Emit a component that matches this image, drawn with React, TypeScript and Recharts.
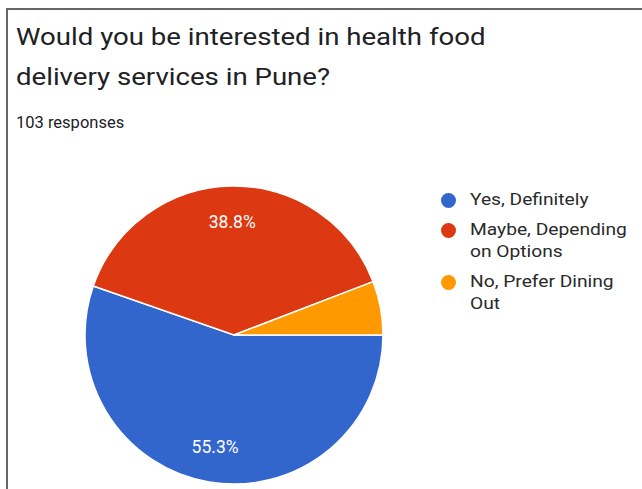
import { PieChart, Pie, Cell, Legend } from 'recharts';

const answers = ['Yes, Definitely', 'Maybe, Depending on Options', 'No, Prefer Dining Out'];
const counts = [57, 40, 6];
const colors = ['#3366cc', '#dc3912', '#ff9900'];
const legendLines = [['Yes, Definitely'], ['Maybe, Depending', 'on Options'], ['No, Prefer Dining', 'Out']];

const total = counts.reduce((a, b) => a + b, 0);
const data = answers.map((name, i) => ({ name, value: counts[i] }));

const RADIAN = Math.PI / 180;
const FONT = 'Roboto, Arial, sans-serif';

// percent label inside slice, skip small ones like google charts
// eslint-disable-next-line @typescript-eslint/no-explicit-any
const renderLabel = ({ cx, cy, midAngle, outerRadius, value }: any) => {
    const pct = (value / total) * 100;
    if (pct < 10) return null;
    const r = outerRadius * 0.76;
    const x = cx + r * Math.cos(-midAngle * RADIAN);
    const y = cy + r * Math.sin(-midAngle * RADIAN);
    return (
        <text x={x} y={y} fill="#ffffff" fontSize={17.5} textAnchor="middle" dominantBaseline="central"
            fontFamily={FONT}>
            {pct.toFixed(1)}%
        </text>
    );
};

const LegendContent = () => (
    <div style={{ fontFamily: FONT, fontSize: 16, color: '#2a2a2a' }}>
        {legendLines.map((lines, i) => (
            <div key={i} style={{ display: 'flex', alignItems: 'flex-start', marginBottom: 8 }}>
                <span style={{
                    width: 15, height: 15, borderRadius: 8, background: colors[i],
                    marginTop: 4, marginRight: 14, flexShrink: 0,
                }} />
                <div style={{ lineHeight: '22px', transform: 'scaleX(1.2)', transformOrigin: 'left center' }}>
                    {lines.map((l) => <div key={l} style={{ whiteSpace: 'nowrap' }}>{l}</div>)}
                </div>
            </div>
        ))}
    </div>
);

export default function App() {
    return (
        <div style={{ position: 'absolute', left: 0, top: 0, width: 642, height: 489, background: '#fff', overflow: 'hidden' }}>
            <div style={{
                position: 'absolute', left: 6, top: 8, width: 700, height: 500,
                borderLeft: '2px solid #666', borderTop: '2px solid #666',
            }} />
            <div style={{
                position: 'absolute', left: 16, top: 18, fontFamily: FONT, whiteSpace: 'nowrap',
                fontSize: 23, lineHeight: '40px', color: '#202124',
                transform: 'scaleX(1.2)', transformOrigin: 'left top',
            }}>
                <div>Would you be interested in health food</div>
                <div>delivery services in Pune?</div>
            </div>
            <div style={{
                position: 'absolute', left: 16, top: 113, fontFamily: FONT,
                fontSize: 16.5, color: '#202124',
            }}>
                {total} responses
            </div>
            <div style={{ position: 'absolute', left: 0, top: 0 }}>
                <PieChart width={642} height={489}>
                    <Pie
                        data={data}
                        dataKey="value"
                        cx={229}
                        cy={330}
                        outerRadius={149}
                        startAngle={0}
                        endAngle={-360}
                        stroke="#ffffff"
                        strokeWidth={1.5}
                        label={renderLabel}
                        labelLine={false}
                        isAnimationActive={false}
                    >
                        {data.map((d, i) => <Cell key={d.name} fill={colors[i]} />)}
                    </Pie>
                    <Legend
                        layout="vertical"
                        content={<LegendContent />}
                        wrapperStyle={{ position: 'absolute', left: 441, top: 189, width: 200 }}
                    />
                </PieChart>
            </div>
        </div>
    );
}
